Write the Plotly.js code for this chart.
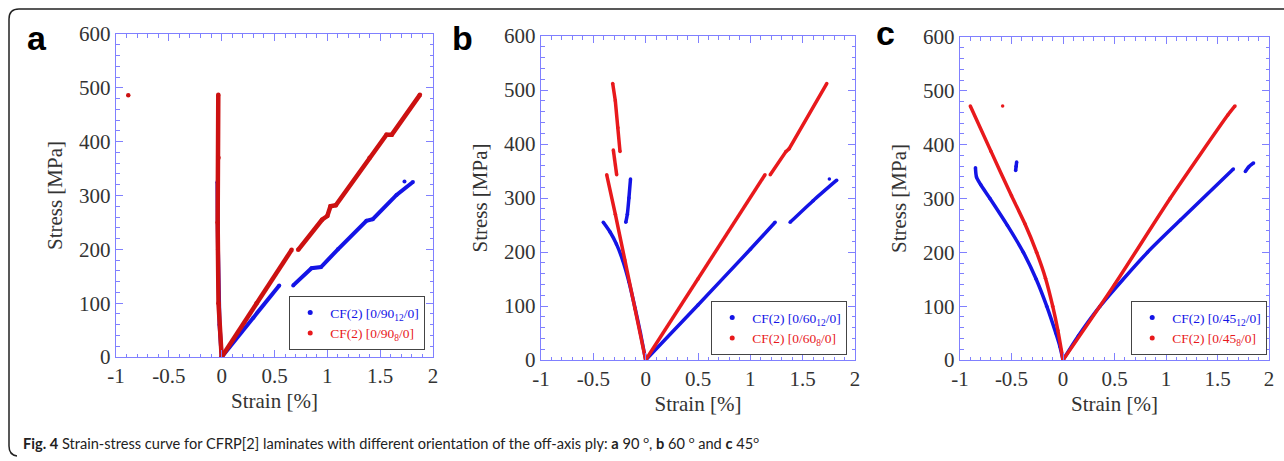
<!DOCTYPE html>
<html><head><meta charset="utf-8">
<script src="https://cdn.plot.ly/plotly-3.0.1.min.js"></script>
<style>html,body{margin:0;padding:0;background:#fff}#chart{width:1284px;height:461px}</style>
</head><body><div id="chart"></div>
<script>
// ---------- tick labels ----------
var xTickVals = [-1, -0.5, 0, 0.5, 1, 1.5, 2];
var xTickText = ['-1', '-0.5', '0', '0.5', '1', '1.5', '2'];
var yTickVals = [0, 100, 200, 300, 400, 500, 600];
var yTickText = ['0', '100', '200', '300', '400', '500', '600'];

// ---------- panel a : 90 deg ----------
var a90_12_x = [0, -0.02, -0.035, -0.04, null, 0, 0.3, 0.545, null, 0.677, 0.85, 0.94, 1.1, 1.37, 1.43, 1.655, 1.81, null, 1.73];
var a90_12_y = [0, 60, 200, 325, null, 0, 73, 133, null, 133, 165, 167, 200, 253, 256, 301, 325, null, 326];
var a90_8_x = [0, -0.03, -0.038, -0.03, -0.032, null, 0, 0.33, 0.662, null, 0.724, 0.95, 1.0, 1.03, 1.08, 1.4, 1.56, 1.61, 1.876, null, -0.884];
var a90_8_y = [0, 100, 250, 370, 487, null, 0, 100, 199, null, 199, 255, 262, 280, 282, 370, 413, 413, 487, null, 486];

// ---------- panel b : 60 deg ----------
var b60_12_x = [0, -0.05, -0.1, -0.16, -0.22, -0.28, -0.34, -0.405, null, -0.19, -0.175, -0.16, -0.145, null, 0, 0.5, 1.0, 1.237, null, 1.38, 1.6, 1.825, null, 1.755];
var b60_12_y = [0, 50, 95, 145, 185, 215, 237, 255, null, 255, 270, 300, 335, null, 0, 102, 205, 255, null, 255, 295, 333, null, 335];
var b60_8_x = [0, -0.1, -0.2, -0.29, -0.372, null, -0.277, -0.309, null, -0.245, -0.265, -0.29, -0.315, null, 0, 0.5, 1.14, null, 1.19, 1.34, 1.37, 1.73];
var b60_8_y = [0, 95, 185, 270, 343, null, 343, 389, null, 386, 430, 480, 512, null, 0, 150, 343, null, 343, 386, 391, 512];

// ---------- panel c : 45 deg ----------
var c45_12_x = [0, -0.03, -0.07, -0.158, -0.26, -0.385, -0.54, -0.709, -0.8, -0.84, -0.85, null, -0.46, -0.455, -0.45, null, 0, 0.15, 0.36, 0.82, 1.14, 1.654, null, 1.77, 1.8, 1.85];
var c45_12_y = [0, 25, 50, 100, 150, 200, 250, 300, 326, 340, 357, null, 352, 360, 368, null, 0, 45, 100, 200, 260, 355, null, 350, 358, 366];
var c45_8_x = [0, -0.05, -0.1, -0.17, -0.256, -0.37, -0.5, -0.7, -0.9, null, -0.586, null, 0, 0.5, 1.04, 1.6, 1.67];
var c45_8_y = [0, 55, 100, 152, 200, 253, 305, 388, 472, null, 472, null, 0, 140, 300, 455, 472];

// ---------- legend labels ----------
var legA = ['CF(2) [0/90<sub>12</sub>/0]', 'CF(2) [0/90<sub>8</sub>/0]'];
var legB = ['CF(2) [0/60<sub>12</sub>/0]', 'CF(2) [0/60<sub>8</sub>/0]'];
var legC = ['CF(2) [0/45<sub>12</sub>/0]', 'CF(2) [0/45<sub>8</sub>/0]'];
var panelLetters = ['a', 'b', 'c'];
var xTitle = 'Strain [%]';
var yTitle = 'Stress [MPa]';
var caption = '<b>Fig. 4</b> Strain-stress curve for CFRP[2] laminates with different orientation of the off-axis ply: <b>a</b> 90 <sup>o</sup>, <b>b</b> 60 <sup>o</sup> and <b>c</b> 45<sup>o</sup>';

// ---------- styling ----------
var W = 1284, H = 461;
function px(x) { return x / W; }
function py(y) { return 1 - y / H; }
var BLUE = '#1414e6', RED = '#e8191c', RED_A = '#cc1111';
var AX = '#8080ff';
var SERIF = 'Liberation Serif, Times New Roman, serif';

function dataTrace(x, y, color, w, xa, ya, shape) {
  return {x: x, y: y, xaxis: xa, yaxis: ya, type: 'scatter', mode: 'lines+markers',
    line: {color: color, width: w, shape: shape || 'linear', smoothing: 0.7},
    marker: {color: color, size: w}, showlegend: false,
    connectgaps: false, hoverinfo: 'skip'};
}
function legTrace(name, color, leg, xa, ya) {
  return {x: [null], y: [null], xaxis: xa, yaxis: ya, type: 'scatter', mode: 'markers',
    marker: {color: color, size: 5}, name: '<span style="color:' + color + '">' + name + '</span>',
    legend: leg, showlegend: true};
}

var traces = [
  dataTrace(a90_12_x, a90_12_y, BLUE, 4, 'x', 'y'),
  dataTrace(a90_8_x, a90_8_y, RED_A, 4.5, 'x', 'y'),
  dataTrace(b60_12_x, b60_12_y, BLUE, 3.5, 'x2', 'y2', 'spline'),
  dataTrace(b60_8_x, b60_8_y, RED, 3.5, 'x2', 'y2'),
  dataTrace(c45_12_x, c45_12_y, BLUE, 3.5, 'x3', 'y3', 'spline'),
  dataTrace(c45_8_x, c45_8_y, RED, 3.5, 'x3', 'y3', 'spline'),
  legTrace(legA[0], BLUE, 'legend', 'x', 'y'),
  legTrace(legA[1], RED, 'legend', 'x', 'y'),
  legTrace(legB[0], BLUE, 'legend2', 'x2', 'y2'),
  legTrace(legB[1], RED, 'legend2', 'x2', 'y2'),
  legTrace(legC[0], BLUE, 'legend3', 'x3', 'y3'),
  legTrace(legC[1], RED, 'legend3', 'x3', 'y3')
];

function xAxis(d0, d1, anchor) {
  return {domain: [px(d0), px(d1)], anchor: anchor, range: [-1, 2], tickmode: 'array',
    tickvals: xTickVals, ticktext: xTickText, showline: true, linecolor: AX, linewidth: 1.2,
    mirror: 'ticks', ticks: 'inside', ticklen: 7, tickcolor: AX, tickwidth: 1,
    minor: {ticks: 'inside', ticklen: 3.5, tickcolor: AX, tickmode: 'linear', tick0: 0, dtick: 0.1},
    showgrid: false, zeroline: false,
    tickfont: {family: SERIF, size: 21, color: '#333'},
    title: {text: xTitle, font: {family: SERIF, size: 21, color: '#333'}, standoff: 5}};
}
function yAxis(d0, d1, anchor) {
  return {domain: [py(d0), py(d1)], anchor: anchor, range: [0, 600], tickmode: 'array',
    tickvals: yTickVals, ticktext: yTickText, showline: true, linecolor: AX, linewidth: 1.2,
    mirror: 'ticks', ticks: 'inside', ticklen: 7, tickcolor: AX, tickwidth: 1,
    minor: {ticks: 'inside', ticklen: 3.5, tickcolor: AX, tickmode: 'linear', tick0: 0, dtick: 20},
    showgrid: false, zeroline: false,
    tickfont: {family: SERIF, size: 21, color: '#333'},
    title: {text: yTitle, font: {family: SERIF, size: 21, color: '#333'}, standoff: 10}};
}
function legendBox(x, y) {
  return {x: px(x), y: py(y), xanchor: 'left', yanchor: 'top', bgcolor: '#fff',
    bordercolor: '#444', borderwidth: 1.2, font: {family: SERIF, size: 13.5, color: '#333'},
    tracegroupgap: 0, itemwidth: 30};
}

var frame = 'M ' + px(W) + ',' + py(9) + ' L ' + px(19) + ',' + py(9) + ' Q ' + px(9) + ',' + py(9) + ' ' + px(9) + ',' + py(19) +
  ' L ' + px(9) + ',' + py(446) + ' Q ' + px(9) + ',' + py(455) + ' ' + px(17) + ',' + py(456);

var LET = {family: 'Liberation Sans, Arial, sans-serif', size: 34, color: '#000'};
var layout = {
  width: W, height: H, margin: {l: 0, r: 0, t: 0, b: 0},
  paper_bgcolor: '#fff', plot_bgcolor: '#fff',
  xaxis: xAxis(116, 433, 'y'), yaxis: yAxis(357, 34, 'x'),
  xaxis2: xAxis(541, 855, 'y2'), yaxis2: yAxis(360, 36, 'x2'),
  xaxis3: xAxis(960, 1269, 'y3'), yaxis3: yAxis(360, 37, 'x3'),
  legend: legendBox(289, 296),
  legend2: legendBox(711, 301),
  legend3: legendBox(1131, 301),
  shapes: [{type: 'path', xref: 'paper', yref: 'paper', path: frame, line: {color: '#222', width: 1.5}}],
  annotations: [
    {text: '<b>' + panelLetters[0] + '</b>', x: px(37), y: py(59), xref: 'paper', yref: 'paper', xanchor: 'center', yanchor: 'bottom', showarrow: false, font: LET},
    {text: '<b>' + panelLetters[1] + '</b>', x: px(462), y: py(59), xref: 'paper', yref: 'paper', xanchor: 'center', yanchor: 'bottom', showarrow: false, font: LET},
    {text: '<b>' + panelLetters[2] + '</b>', x: px(885), y: py(54), xref: 'paper', yref: 'paper', xanchor: 'center', yanchor: 'bottom', showarrow: false, font: LET},
    {text: caption, x: px(21), y: py(442), xref: 'paper', yref: 'paper', xanchor: 'left', yanchor: 'middle', showarrow: false, font: {family: 'Lato, Open Sans, sans-serif', size: 14.6, color: '#222'}}
  ]
};

Plotly.newPlot('chart', traces, layout, {displayModeBar: false, staticPlot: true});
</script></body></html>
